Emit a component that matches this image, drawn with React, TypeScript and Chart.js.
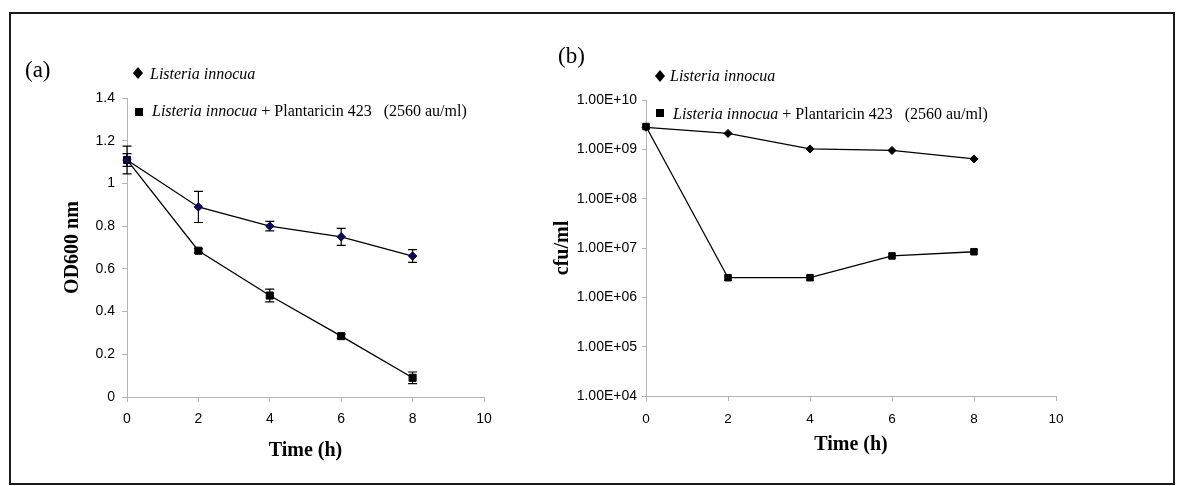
import React, { useEffect, useRef } from "react";
import { Chart, registerables } from "chart.js";

Chart.register(...registerables);

// ---------- data ----------
const timeH = [0, 2, 4, 6, 8];
const timeTicks = [0, 2, 4, 6, 8, 10];

const odInnocua = [1.11, 0.89, 0.8, 0.75, 0.66];
const odInnocuaErr = [0.065, 0.073, 0.022, 0.04, 0.03];
const odPlantaricin = [1.11, 0.685, 0.475, 0.285, 0.09];
const odPlantaricinErr = [0.03, 0.01, 0.03, 0.01, 0.027];
const odTicks = [0, 0.2, 0.4, 0.6, 0.8, 1, 1.2, 1.4];

const cfuInnocua = [2.8e9, 2.1e9, 1.02e9, 9.5e8, 6.4e8];
const cfuPlantaricin = [2.9e9, 2.5e6, 2.5e6, 6.9e6, 8.4e6];
const cfuTicks = [1e4, 1e5, 1e6, 1e7, 1e8, 1e9, 1e10];

const speciesName = "Listeria innocua";
const treatmentName = " + Plantaricin 423";
const doseText = "(2560 au/ml)";
const panelLabels = ["(a)", "(b)"];
const xTitle = "Time (h)";
const yTitleA = "OD600 nm";
const yTitleB = "cfu/ml";

// ---------- helpers ----------
const SERIF = '"Liberation Serif", "Times New Roman", serif';
const SANS = '"Liberation Sans", Arial, sans-serif';
const AXIS_GREY = "#b4b4b4";

const toPoints = (xs: number[], ys: number[]) => xs.map((x, i) => ({ x, y: ys[i] }));

const sciLabel = (v: number) => {
  const e = Math.floor(Math.log10(v) + 1e-9);
  const m = v / Math.pow(10, e);
  const sign = e < 0 ? "-" : "+";
  return m.toFixed(2) + "E" + sign + String(Math.abs(e)).padStart(2, "0");
};

const plainLabel = (v: number) => String(Math.round(v * 100) / 100);

const errorBarPlugin = {
  id: "errorBars",
  beforeDatasetsDraw(chart: any) {
    const ctx = chart.ctx;
    const ys = chart.scales.y;
    chart.data.datasets.forEach((ds: any, i: number) => {
      const errs: number[] | undefined = ds.errors;
      if (!errs) return;
      const meta = chart.getDatasetMeta(i);
      ctx.save();
      ctx.strokeStyle = "#000";
      ctx.lineWidth = 1.2;
      ds.data.forEach((p: any, j: number) => {
        const e = errs[j];
        const x = meta.data[j].x;
        const yTop = ys.getPixelForValue(p.y + e);
        const yBot = ys.getPixelForValue(p.y - e);
        ctx.beginPath();
        ctx.moveTo(x, yTop);
        ctx.lineTo(x, yBot);
        ctx.moveTo(x - 4.5, yTop);
        ctx.lineTo(x + 4.5, yTop);
        ctx.moveTo(x - 4.5, yBot);
        ctx.lineTo(x + 4.5, yBot);
        ctx.stroke();
      });
      ctx.restore();
    });
  },
};

const axisCommon = (tickLength: number) => ({
  border: { display: true, color: AXIS_GREY, width: 1 },
  grid: {
    drawOnChartArea: false,
    drawTicks: true,
    tickLength,
    tickColor: AXIS_GREY,
  },
});

function xAxis(height: number, fontSize: number, padding: number) {
  return {
    type: "linear",
    min: 0,
    max: 10,
    ...axisCommon(5),
    afterBuildTicks: (s: any) => {
      s.ticks = timeTicks.map((value) => ({ value }));
    },
    afterFit: (s: any) => {
      s.height = height;
    },
    ticks: {
      color: "#000",
      font: { family: SANS, size: fontSize },
      padding,
      maxRotation: 0,
      callback: (v: any) => plainLabel(Number(v)),
    },
    title: {
      display: true,
      text: xTitle,
      color: "#000",
      font: { family: SERIF, size: 20, weight: "bold" },
      padding: 0,
    },
  };
}

function makeChartA(canvas: HTMLCanvasElement) {
  return new Chart(canvas, {
    type: "line",
    data: {
      datasets: [
        {
          label: speciesName,
          data: toPoints(timeH, odInnocua),
          errors: odInnocuaErr,
          borderColor: "#000",
          borderWidth: 1.3,
          pointStyle: "rectRot",
          pointRadius: 4.2,
          pointBackgroundColor: "#0a0a5e",
          pointBorderColor: "#000033",
          pointBorderWidth: 1,
          clip: false,
        } as any,
        {
          label: speciesName + treatmentName,
          data: toPoints(timeH, odPlantaricin),
          errors: odPlantaricinErr,
          borderColor: "#000",
          borderWidth: 1.3,
          pointStyle: "rect",
          pointRadius: 5,
          pointBackgroundColor: "#000",
          pointBorderColor: "#000",
          pointBorderWidth: 1,
          clip: false,
        } as any,
      ],
    },
    options: {
      animation: false,
      responsive: false,
      layout: { padding: { left: 61, top: 98, right: 61, bottom: 23 } },
      plugins: { legend: { display: false }, tooltip: { enabled: false } },
      scales: {
        x: xAxis(66, 14, 9),
        y: {
          type: "linear",
          min: 0,
          max: 1.4,
          ...axisCommon(5),
          afterBuildTicks: (s: any) => {
            s.ticks = odTicks.map((value) => ({ value }));
          },
          afterFit: (s: any) => {
            s.width = 66;
          },
          ticks: {
            color: "#000",
            font: { family: SANS, size: 14 },
            padding: 7,
            callback: (v: any) => plainLabel(Number(v)),
          },
          title: {
            display: true,
            text: yTitleA,
            color: "#000",
            font: { family: SERIF, size: 20, weight: "bold" },
            padding: 0,
          },
        },
      },
    } as any,
    plugins: [errorBarPlugin],
  });
}

function makeChartB(canvas: HTMLCanvasElement) {
  return new Chart(canvas, {
    type: "line",
    data: {
      datasets: [
        {
          label: speciesName,
          data: toPoints(timeH, cfuInnocua),
          borderColor: "#000",
          borderWidth: 1.3,
          pointStyle: "rectRot",
          pointRadius: 4,
          pointBackgroundColor: "#000",
          pointBorderColor: "#000",
          pointBorderWidth: 1,
          clip: false,
        } as any,
        {
          label: speciesName + treatmentName,
          data: toPoints(timeH, cfuPlantaricin),
          borderColor: "#000",
          borderWidth: 1.3,
          pointStyle: "rect",
          pointRadius: 4.6,
          pointBackgroundColor: "#000",
          pointBorderColor: "#000",
          pointBorderWidth: 1,
          clip: false,
        } as any,
      ],
    },
    options: {
      animation: false,
      responsive: false,
      layout: { padding: { left: 6, top: 100, right: 89, bottom: 29 } },
      plugins: { legend: { display: false }, tooltip: { enabled: false } },
      scales: {
        x: xAxis(61, 13.5, 10),
        y: {
          type: "logarithmic",
          min: cfuTicks[0],
          max: cfuTicks[cfuTicks.length - 1],
          ...axisCommon(4),
          afterBuildTicks: (s: any) => {
            s.ticks = cfuTicks.map((value) => ({ value }));
          },
          afterFit: (s: any) => {
            s.width = 95;
          },
          ticks: {
            color: "#000",
            font: { family: SANS, size: 14 },
            padding: 5,
            callback: (v: any) => sciLabel(Number(v)),
          },
          title: {
            display: true,
            text: yTitleB,
            color: "#000",
            font: { family: SERIF, size: 20, weight: "bold" },
            padding: 0,
          },
        },
      },
    } as any,
  });
}

// ---------- legend pieces (HTML overlay) ----------
const Diamond = ({ left, cy }: { left: number; cy: number }) => (
  <div
    style={{
      position: "absolute",
      left,
      top: cy - 6,
      width: 10,
      height: 12,
      background: "#000",
      clipPath: "polygon(50% 0, 100% 50%, 50% 100%, 0 50%)",
    }}
  />
);

const Square = ({ left, cy }: { left: number; cy: number }) => (
  <div
    style={{
      position: "absolute",
      left,
      top: cy - 4,
      width: 8,
      height: 8,
      background: "#000",
    }}
  />
);

const textStyle = (left: number, baseline: number, size: number): React.CSSProperties => ({
  position: "absolute",
  left,
  top: baseline - 0.8375 * size,
  fontFamily: SERIF,
  fontSize: size,
  lineHeight: size + "px",
  color: "#000",
  whiteSpace: "pre",
});

const LegendLine1 = ({ left, baseline }: { left: number; baseline: number }) => (
  <div style={textStyle(left, baseline, 16)}>
    <i>{speciesName}</i>
  </div>
);

const LegendLine2 = ({ left, baseline }: { left: number; baseline: number }) => (
  <div style={textStyle(left, baseline, 16)}>
    <i>{speciesName}</i>
    {treatmentName + "   " + doseText}
  </div>
);

export default function App() {
  const refA = useRef<HTMLCanvasElement | null>(null);
  const refB = useRef<HTMLCanvasElement | null>(null);

  useEffect(() => {
    const a = refA.current ? makeChartA(refA.current) : null;
    const b = refB.current ? makeChartB(refB.current) : null;
    return () => {
      a?.destroy();
      b?.destroy();
    };
  }, []);

  return (
    <div
      style={{
        position: "absolute",
        left: 0,
        top: 0,
        width: 1200,
        height: 486,
        background: "#fff",
        overflow: "hidden",
      }}
    >
      <div
        style={{
          position: "absolute",
          left: 9,
          top: 12,
          width: 1166,
          height: 473,
          border: "2px solid #1a1a1a",
          boxSizing: "border-box",
        }}
      />
      <canvas
        ref={refA}
        width={545}
        height={486}
        style={{ position: "absolute", left: 0, top: 0, width: 545, height: 486 }}
      />
      <canvas
        ref={refB}
        width={600}
        height={486}
        style={{ position: "absolute", left: 545, top: 0, width: 600, height: 486 }}
      />

      <div style={textStyle(25, 77, 23)}>{panelLabels[0]}</div>
      <div style={textStyle(558, 63, 23)}>{panelLabels[1]}</div>

      <Diamond left={133} cy={73} />
      <LegendLine1 left={150} baseline={79} />
      <Square left={135} cy={112} />
      <LegendLine2 left={152} baseline={116.5} />

      <Diamond left={655} cy={76} />
      <LegendLine1 left={670} baseline={81.5} />
      <Square left={656} cy={113} />
      <LegendLine2 left={673} baseline={119} />
    </div>
  );
}
